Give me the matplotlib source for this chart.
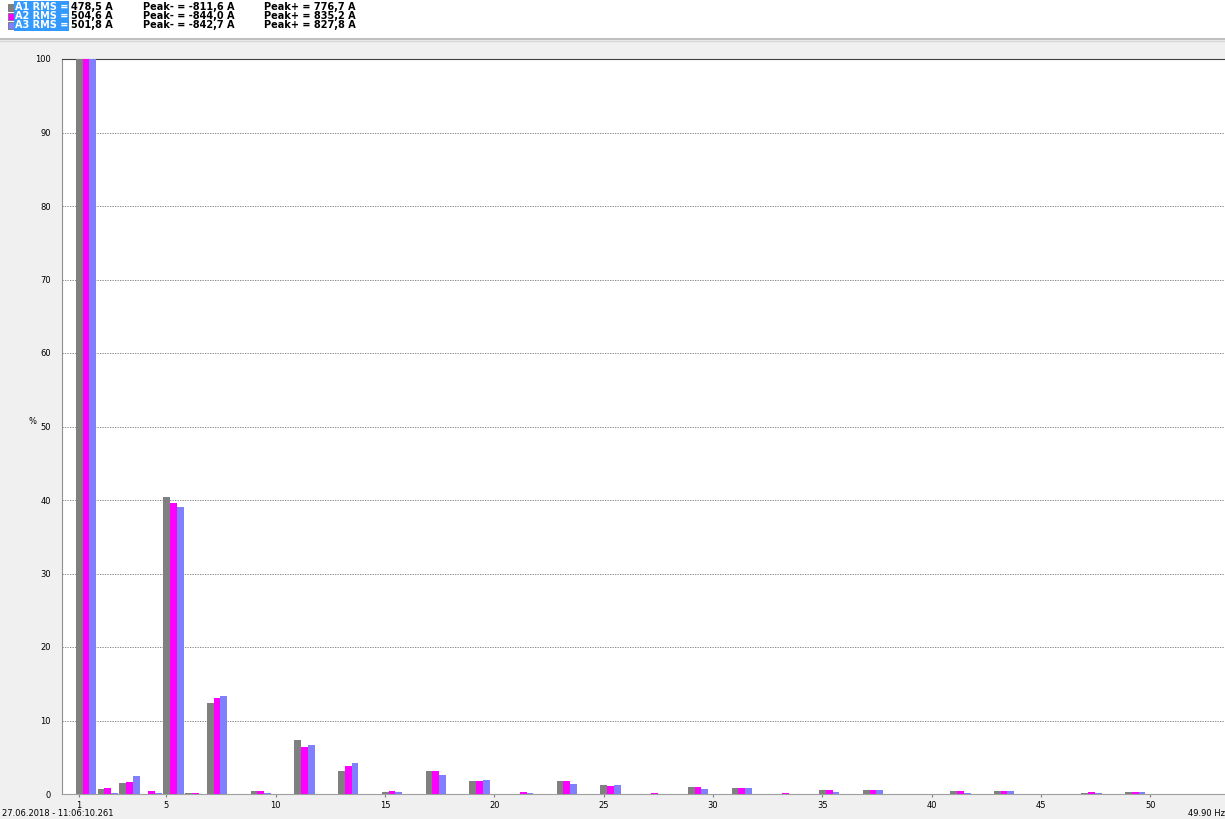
import numpy as np
import matplotlib.pyplot as plt
from matplotlib.patches import Rectangle

plt.rcParams['font.family'] = 'DejaVu Sans'

# harmonic spectrum, % of fundamental
harmonics = np.arange(1, 51)

a1 = np.zeros(50)
a2 = np.zeros(50)
a3 = np.zeros(50)

vals = {
    1: (100, 100, 100),
    2: (0.65, 0.8, 0.2),
    3: (1.5, 1.7, 2.4),
    4: (0.05, 0.45, 0.15),
    5: (40.45, 39.55, 39.1),
    6: (0.15, 0.15, 0.05),
    7: (12.4, 13.05, 13.3),
    9: (0.45, 0.45, 0.15),
    11: (7.3, 6.4, 6.6),
    13: (3.1, 3.85, 4.25),
    15: (0.3, 0.35, 0.25),
    17: (3.1, 3.1, 2.6),
    19: (1.75, 1.75, 1.85),
    21: (0.0, 0.3, 0.15),
    23: (1.75, 1.75, 1.3),
    25: (1.2, 1.05, 1.2),
    27: (0.0, 0.2, 0.05),
    29: (1.0, 0.95, 0.7),
    31: (0.85, 0.8, 0.85),
    33: (0.0, 0.15, 0.05),
    35: (0.55, 0.6, 0.3),
    37: (0.6, 0.6, 0.6),
    41: (0.4, 0.4, 0.2),
    43: (0.4, 0.4, 0.45),
    47: (0.2, 0.3, 0.15),
    49: (0.25, 0.25, 0.25),
}
for h, (v1, v2, v3) in vals.items():
    a1[h - 1], a2[h - 1], a3[h - 1] = v1, v2, v3

series = [('A1', a1, '#808080'), ('A2', a2, '#ff00ff'), ('A3', a3, '#8080ff')]
rms = ['478,5 A', '504,6 A', '501,8 A']
peak_neg = ['-811,6 A', '-844,0 A', '-842,7 A']
peak_pos = ['776,7 A', '835,2 A', '827,8 A']

W, H = 1225, 819
fig = plt.figure(figsize=(W / 100, H / 100), dpi=100)
fig.patch.set_facecolor('#f0f0f0')

# white header strip
fig.patches.append(Rectangle((0, 1 - 38 / H), 1, 38 / H, transform=fig.transFigure,
                             facecolor='white', edgecolor='none', zorder=0))
fig.add_artist(plt.Line2D([0, 1], [1 - 38.5 / H, 1 - 38.5 / H], color='#c0c0c0', lw=1.5))
fig.add_artist(plt.Line2D([0, 1], [1 - 41 / H, 1 - 41 / H], color='#d8d8d8', lw=1))

ax = fig.add_axes([62 / W, 1 - 794 / H, 1 - 62 / W, (794 - 59) / H])
ax.set_facecolor('white')

bw = 0.31
for i, (name, vals_, col) in enumerate(series):
    ax.bar(harmonics - 0.15 + i * bw, vals_, width=bw, align='edge', color=col,
           edgecolor='none', zorder=3)

ax.set_xlim(0.22, 53.42)
ax.set_ylim(0, 100)
ax.set_yticks(np.arange(0, 101, 10))
ax.set_xticks([1, 5, 10, 15, 20, 25, 30, 35, 40, 45, 50])
ax.yaxis.grid(True, linestyle=(0, (1.5, 1.5)), color='#707070', lw=0.6, zorder=1)
ax.tick_params(labelsize=6, length=2, color='#808080', pad=3)
ax.tick_params(axis='y', length=0, pad=8)
ax.spines['right'].set_visible(False)
ax.spines['top'].set_color('#404040')
ax.spines['left'].set_color('#909090')
ax.spines['bottom'].set_color('#a0a0a0')
ax.set_ylabel('%', fontsize=6, rotation=0, labelpad=2)

# header legend
rows_y = [7, 16, 25]
for i, (name, _, col) in enumerate(series):
    y = 1 - rows_y[i] / H
    fig.patches.append(Rectangle((8 / W, y - 3.5 / H), 6 / W, 7 / H, transform=fig.transFigure,
                                 facecolor=col, edgecolor='#606060', lw=0.5))
    fig.text(15 / W, y, name + ' RMS =', fontsize=7, fontweight='bold', color='white',
             va='center', ha='left',
             bbox=dict(boxstyle='square,pad=0.1', facecolor='#3399ff', edgecolor='none'))
    fig.text(71 / W, y, rms[i], fontsize=7, fontweight='bold', va='center', ha='left')
    fig.text(143 / W, y, 'Peak- = ' + peak_neg[i], fontsize=7, fontweight='bold',
             va='center', ha='left')
    fig.text(264 / W, y, 'Peak+ = ' + peak_pos[i], fontsize=7, fontweight='bold',
             va='center', ha='left')

fig.text(2 / W, 1 - 813 / H, '27.06.2018 - 11:06:10.261', fontsize=6, va='center', ha='left')
fig.text(1188 / W, 1 - 813 / H, '49.90 Hz', fontsize=6, va='center', ha='left')

fig.savefig('out.png', dpi=100, facecolor=fig.get_facecolor())
